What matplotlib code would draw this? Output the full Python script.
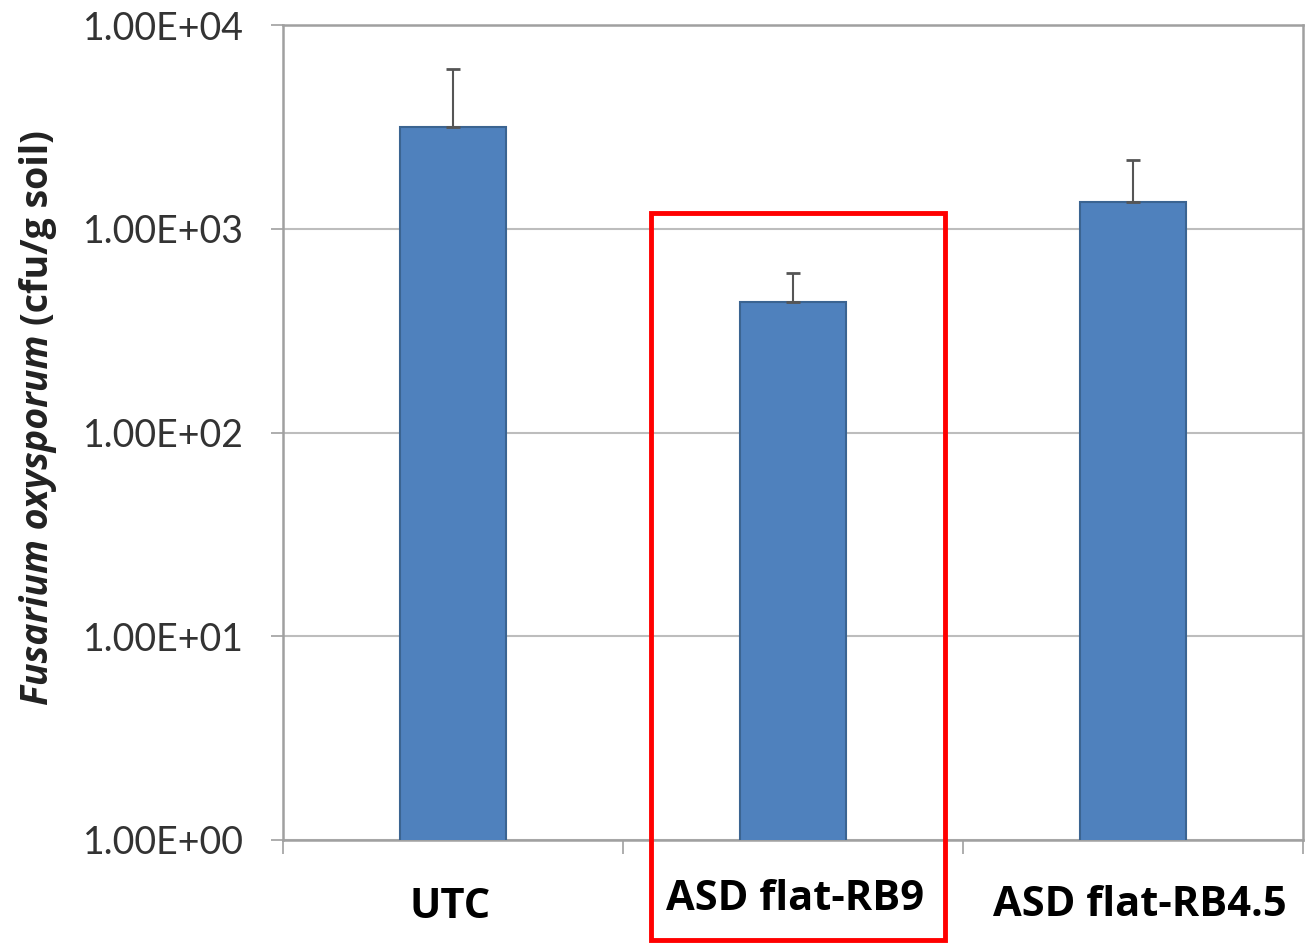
import matplotlib.pyplot as plt
from matplotlib.patches import Rectangle

# valeurs
traitements = ["UTC", "ASD flat-RB9", "ASD flat-RB4.5"]
moyennes = [3160, 437, 1350]
erreurs = [2920, 170, 820]
ticks_y = [1, 10, 100, 1000, 10000]
labels_y = ["1.00E+00", "1.00E+01", "1.00E+02", "1.00E+03", "1.00E+04"]

W, H = 1307, 944
fig = plt.figure(figsize=(W / 100, H / 100), dpi=100)
ax = fig.add_axes([283 / W, 1 - 840 / H, 1020 / W, 815 / H])

x = list(range(len(traitements)))
ax.bar(x, moyennes, width=0.31, color="#4F81BD", edgecolor="#3B6491",
       linewidth=1.5, zorder=3)
ax.errorbar(x, moyennes, yerr=[[0] * len(erreurs), erreurs], fmt="none",
            ecolor="#555555", elinewidth=1.5, capsize=5, capthick=2, zorder=4)

ax.set_yscale("log")
ax.set_ylim(1, 10000)
ax.set_xlim(-0.5, 2.5)
ax.set_yticks(ticks_y)
ax.set_yticklabels(labels_y, family="Lato", fontsize=27, color="#333333")
ax.minorticks_off()
ax.tick_params(axis="y", length=9, width=1.2, color="#A0A0A0", pad=19)

# graduations entre les catégories
ax.set_xticks([-0.5, 0.5, 1.5, 2.5])
ax.set_xticklabels([])
ax.tick_params(axis="x", length=10, width=1.2, color="#A0A0A0")

ax.grid(axis="y", color="#BDBDBD", linewidth=1.5, zorder=0)
for s in ax.spines.values():
    s.set_color("#A0A0A0")
    s.set_linewidth(1.8)

# étiquettes des catégories (position en pixels)
label_x = [450, 795, 1140]
label_y = [907, 900, 905]
for i, t in enumerate(traitements):
    fig.text(label_x[i] / W, 1 - label_y[i] / H, t,
             ha="center", va="center", family="Open Sans", weight="bold",
             fontsize=30, color="black")

# titre de l'axe y
fig.text(38 / W, 1 - 325 / H, "(cfu/g soil)", rotation=90, ha="center",
         va="bottom", family="Open Sans", weight="bold", fontsize=27,
         color="#222222")
fig.text(38 / W, 1 - 335 / H, "Fusarium oxysporum", rotation=90,
         ha="center", va="top", family="Open Sans", weight="bold",
         style="italic", fontsize=27, color="#222222")

# cadre rouge
fig.patches.append(Rectangle((651 / W, 1 - 940 / H), 294 / W, 727 / H,
                             transform=fig.transFigure, fill=False,
                             edgecolor="#FF0000", linewidth=3.5))

fig.savefig("out.png", dpi=100)
